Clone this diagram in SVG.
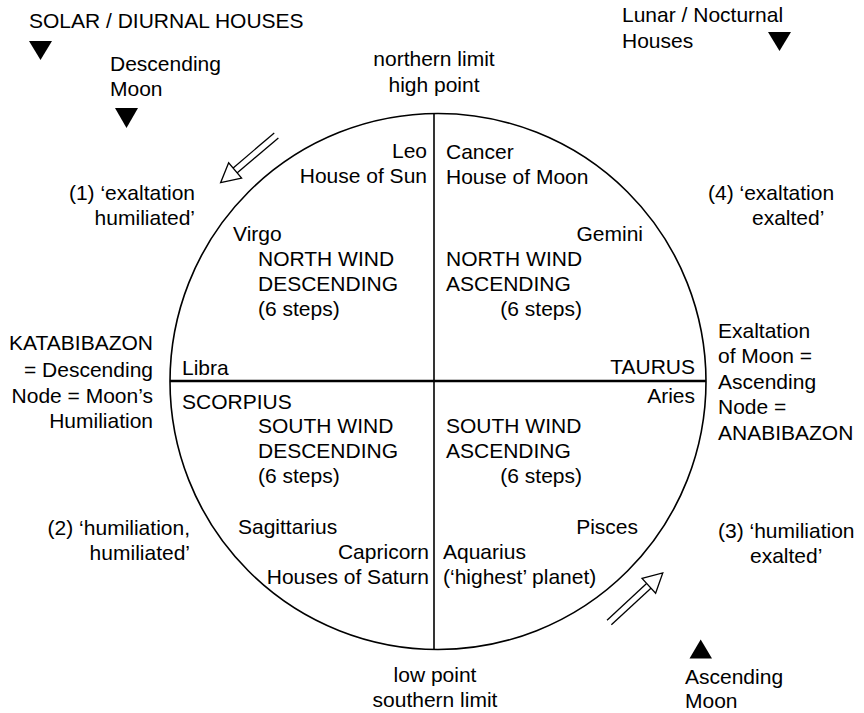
<svg xmlns="http://www.w3.org/2000/svg" width="864" height="713" viewBox="0 0 864 713">
<style>
text{font-family:"Liberation Sans",Arial,Helvetica,sans-serif;font-size:21px;fill:#000}
.e{text-anchor:end}
.m{text-anchor:middle}
.ln{stroke:#000;fill:none}
.tri{fill:#000}
.ah{fill:#fff;stroke:#000;stroke-width:1.3}
.sh{stroke:#000;stroke-width:1.3}
</style>
<defs>
<g id="arrow">
<line class="sh" x1="0" y1="-3.2" x2="55" y2="-3.2"/>
<line class="sh" x1="0" y1="3.2" x2="55" y2="3.2"/>
<polygon class="ah" points="54,-10 73,0 54,10"/>
</g>
</defs>
<rect width="864" height="713" fill="#fff"/>
<g id="wheel">
<circle class="ln" cx="438" cy="381.5" r="268" stroke-width="1.6"/>
<line class="ln" x1="434" y1="114" x2="434" y2="649" stroke-width="1.6"/>
<line class="ln" x1="170" y1="381" x2="706" y2="381" stroke-width="2.6"/>
</g>
<g id="connectors">
<use href="#arrow" transform="translate(276.3,135.5) rotate(139.7)"/>
<use href="#arrow" transform="translate(609.2,622.5) rotate(-42.8)"/>
</g>
<g id="solar">
<text x="29" y="28">SOLAR / DIURNAL HOUSES</text>
<polygon class="tri" points="29,41 52,41 40.5,60"/>
</g>
<g id="descending-moon">
<text x="110" y="71">Descending</text>
<text x="110" y="96">Moon</text>
<polygon class="tri" points="115,108 138,108 126.5,128"/>
</g>
<g id="lunar">
<text x="622" y="22">Lunar / Nocturnal</text>
<text x="622" y="48">Houses</text>
<polygon class="tri" points="768,32 791,32 779.5,51"/>
</g>
<g id="high-point">
<text class="m" x="434" y="66">northern limit</text>
<text class="m" x="434" y="92">high point</text>
</g>
<g id="leo">
<text class="e" x="427" y="158">Leo</text>
<text class="e" x="427" y="183">House of Sun</text>
</g>
<g id="cancer">
<text x="446" y="159">Cancer</text>
<text x="446" y="184">House of Moon</text>
</g>
<g id="exaltation-humiliated">
<text class="e" x="195" y="200">(1) ‘exaltation</text>
<text class="e" x="195" y="225">humiliated’</text>
</g>
<g id="exaltation-exalted">
<text x="708" y="200">(4) ‘exaltation</text>
<text x="752" y="225">exalted’</text>
</g>
<g id="virgo"><text x="233" y="241">Virgo</text></g>
<g id="gemini"><text class="e" x="643" y="241">Gemini</text></g>
<g id="north-desc">
<text x="258" y="266">NORTH WIND</text>
<text x="258" y="291">DESCENDING</text>
<text x="258" y="316">(6 steps)</text>
</g>
<g id="north-asc">
<text x="446" y="266">NORTH WIND</text>
<text x="446" y="291">ASCENDING</text>
<text class="e" x="582" y="316">(6 steps)</text>
</g>
<g id="katabibazon">
<text class="e" x="153" y="350">KATABIBAZON</text>
<text class="e" x="153" y="376.5">= Descending</text>
<text class="e" x="153" y="402.5">Node = Moon’s</text>
<text class="e" x="153" y="427.5">Humiliation</text>
</g>
<g id="libra"><text x="182" y="375">Libra</text></g>
<g id="scorpius"><text x="182" y="408.5">SCORPIUS</text></g>
<g id="taurus"><text class="e" x="695" y="373.5">TAURUS</text></g>
<g id="aries"><text class="e" x="695" y="402.5">Aries</text></g>
<g id="anabibazon">
<text x="718" y="337.5">Exaltation</text>
<text x="718" y="363">of Moon =</text>
<text x="718" y="388.5">Ascending</text>
<text x="718" y="414">Node =</text>
<text x="718" y="439.5">ANABIBAZON</text>
</g>
<g id="south-desc">
<text x="258" y="433">SOUTH WIND</text>
<text x="258" y="458">DESCENDING</text>
<text x="258" y="483">(6 steps)</text>
</g>
<g id="south-asc">
<text x="446" y="433">SOUTH WIND</text>
<text x="446" y="458">ASCENDING</text>
<text class="e" x="582" y="483">(6 steps)</text>
</g>
<g id="humiliation-humiliated">
<text class="e" x="190" y="535">(2) ‘humiliation,</text>
<text class="e" x="190" y="560">humiliated’</text>
</g>
<g id="sagittarius"><text x="238" y="533.5">Sagittarius</text></g>
<g id="pisces"><text class="e" x="638" y="533.5">Pisces</text></g>
<g id="humiliation-exalted">
<text x="718" y="538">(3) ‘humiliation</text>
<text x="750" y="563">exalted’</text>
</g>
<g id="capricorn">
<text class="e" x="429" y="558.5">Capricorn</text>
<text class="e" x="429" y="584">Houses of Saturn</text>
</g>
<g id="aquarius">
<text x="443" y="558.5">Aquarius</text>
<text x="443" y="584">(‘highest’ planet)</text>
</g>
<g id="low-point">
<text class="m" x="435" y="681.5">low point</text>
<text class="m" x="435" y="706.5">southern limit</text>
</g>
<g id="ascending-moon">
<polygon class="tri" points="689.5,658.5 712,658.5 700.7,639.5"/>
<text x="685" y="683.5">Ascending</text>
<text x="685" y="708">Moon</text>
</g>
</svg>
